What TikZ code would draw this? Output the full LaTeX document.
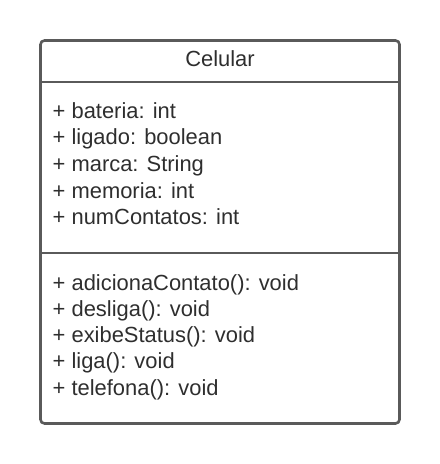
\documentclass[tikz,border=0pt]{standalone}
\usepackage{fontspec}
\setmainfont{Liberation Sans}
\usepackage{xcolor}
\usepackage{tikz}
\definecolor{umlgray}{HTML}{5A5A5A}
\definecolor{umltext}{HTML}{2E2E2E}
\tikzset{box/.style={draw=umlgray,line width=2.6bp},
         title/.style={anchor=base,inner sep=0pt,text=umltext,font=\fontsize{22}{26}\selectfont},
         member/.style={anchor=base west,inner sep=0pt,text=umltext,font=\fontsize{22}{26}\selectfont}}

\begin{document}
\begin{tikzpicture}[x=1bp,y=-1bp]
    \useasboundingbox (0,0) rectangle (440,464);

    \draw [box,rounded corners=4bp] (40.5,40.5) rectangle (399.5,423.5);
    \draw [box] (40.5,82) -- (399.5,82);
    \draw [box] (40.5,253) -- (399.5,253);

    \node[title] (cls) at (220,66.7) {Celular};

    \node[member] (bat) at (52.5,118.3) {+ bateria: int};
    \node[member] (lig) at (52.5,145) {+ ligado: boolean};
    \node[member] (mar) at (52.5,171.6) {+ marca: String};
    \node[member] (mem) at (52.5,198.2) {+ memoria: int};
    \node[member] (num) at (52.5,224.8) {+ numContatos: int};

    \node[member] (add) at (52.5,290) {+ adicionaContato(): void};
    \node[member] (des) at (52.5,316.3) {+ desliga(): void};
    \node[member] (exi) at (52.5,342.6) {+ exibeStatus(): void};
    \node[member] (lga) at (52.5,368.9) {+ liga(): void};
    \node[member] (tel) at (52.5,395.2) {+ telefona(): void};
\end{tikzpicture}
\end{document}
